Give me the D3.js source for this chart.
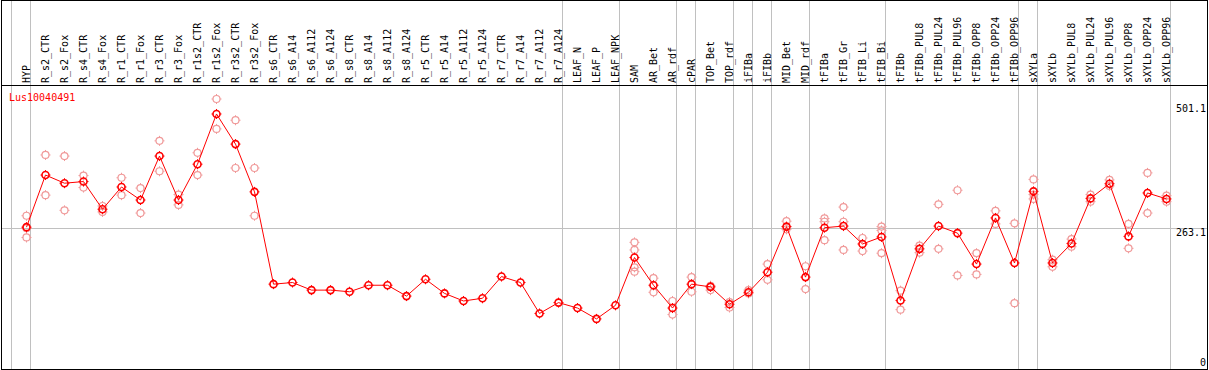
<!DOCTYPE html>
<html>
<head>
<meta charset="utf-8">
<script src="https://cdn.jsdelivr.net/npm/d3@7"></script>
<style>
  body { margin: 0; background: #fff; }
  svg { display: block; }
  text { font-family: "DejaVu Sans Mono", monospace; font-size: 10px; }
</style>
</head>
<body>
<svg id="chart"></svg>
<script>
const geneId = 'Lus10040491';

const categories = [
  'HYP', 'R_s2_CTR', 'R_s2_Fox', 'R_s4_CTR', 'R_s4_Fox', 'R_r1_CTR', 'R_r1_Fox',
  'R_r3_CTR', 'R_r3_Fox', 'R_r1s2_CTR', 'R_r1s2_Fox', 'R_r3s2_CTR', 'R_r3s2_Fox',
  'R_s6_CTR', 'R_s6_A14', 'R_s6_A112', 'R_s6_A124', 'R_s8_CTR', 'R_s8_A14',
  'R_s8_A112', 'R_s8_A124', 'R_r5_CTR', 'R_r5_A14', 'R_r5_A112', 'R_r5_A124',
  'R_r7_CTR', 'R_r7_A14', 'R_r7_A112', 'R_r7_A124', 'LEAF_N', 'LEAF_P', 'LEAF_NPK',
  'SAM', 'AR_Bet', 'AR_rdf', 'cPAR', 'TOP_Bet', 'TOP_rdf', 'iFIBa', 'iFIBb',
  'MID_Bet', 'MID_rdf', 'tFIBa', 'tFIB_Gr', 'tFIB_Li', 'tFIB_Bi', 'tFIBb',
  'tFIBb_PUL8', 'tFIBb_PUL24', 'tFIBb_PUL96', 'tFIBb_OPP8', 'tFIBb_OPP24', 'tFIBb_OPP96',
  'sXYLa', 'sXYLb', 'sXYLb_PUL8', 'sXYLb_PUL24', 'sXYLb_PUL96', 'sXYLb_OPP8',
  'sXYLb_OPP24', 'sXYLb_OPP96'
];

const meanValues = [
  265, 361, 346, 349, 298, 339, 315, 396, 315, 381, 473.5, 418, 330,
  160, 163, 149, 149, 146, 158, 158, 138, 169, 143, 129, 134, 174, 163, 106, 126,
  116, 96, 121, 209, 158, 116, 160, 155, 123, 145, 182, 266, 173,
  264, 267, 234, 247, 130, 225, 267, 254, 197, 282, 199,
  331, 199, 235, 318, 345, 248, 328, 317
];

const replicateValues = [
  [286, 263, 246], [398, 324], [396, 296], [360, 338], [304, 293], [356, 324],
  [337, 291], [424, 368], [325, 306], [402, 361], [501.1, 446], [462, 374], [374, 286],
  [], [], [], [], [], [], [], [], [], [], [], [], [], [], [], [], [], [], [],
  [237, 223, 191, 183], [171, 145], [129, 104], [173, 146], [157, 149], [127, 117],
  [149, 143], [197, 168], [276, 261], [193, 151], [281, 275, 241], [302, 275, 223],
  [245, 221], [266, 259, 217], [148, 113], [231, 218], [307, 225], [333, 176],
  [217, 178], [295, 271], [272, 125], [353, 325, 317], [205, 192], [243, 229],
  [325, 312], [352, 341], [271, 226], [365, 291], [323, 312]
];

// categories that close a group (gray separator on their right)
const groupEnds = ['HYP', 'R_r7_A124', 'LEAF_NPK', 'AR_rdf', 'cPAR', 'TOP_rdf',
  'iFIBa', 'iFIBb', 'MID_rdf', 'tFIB_Bi', 'tFIBb_OPP96', 'sXYLa', 'sXYLb_OPP96'];

const yTicks = [0, 263.1, 501.1];

function drawChart(container) {
  const width = 1209;
  const height = 370;
  const headerBottom = 85;
  const plotBottom = 369;

  const svg = d3.select(container)
      .attr('width', width)
      .attr('height', height);

  const x = d3.scaleBand()
      .domain(categories)
      .range([11, 1170]);
  const px = c => Math.round(x(c) + 15) + 0.5;

  const y = d3.scaleLinear()
      .domain([0, 501.1])
      .range([371, 99]);

  const data = categories.map((c, i) => ({
    name: c, mean: meanValues[i], reps: replicateValues[i]
  }));

  // gray separators
  const seps = [x(categories[0])].concat(groupEnds.map(c => x(c) + x.bandwidth()));
  svg.selectAll('.sep')
      .data(seps)
    .enter().append('line')
      .attr('class', 'sep')
      .attr('x1', d => Math.round(d) + 0.5)
      .attr('x2', d => Math.round(d) + 0.5)
      .attr('y1', 0)
      .attr('y2', plotBottom)
      .attr('stroke', '#c0c0c0');

  // horizontal gridline
  svg.append('line')
      .attr('x1', 1).attr('x2', 1207)
      .attr('y1', Math.round(y(263.1)) + 0.5)
      .attr('y2', Math.round(y(263.1)) + 0.5)
      .attr('stroke', '#c0c0c0');

  // frame and header separator
  svg.append('rect')
      .attr('x', 1.5).attr('y', 0.5)
      .attr('width', 1206).attr('height', plotBottom)
      .attr('fill', 'none')
      .attr('stroke', '#000');
  svg.append('line')
      .attr('x1', 1).attr('x2', 1208)
      .attr('y1', headerBottom + 0.5).attr('y2', headerBottom + 0.5)
      .attr('stroke', '#000');

  // header labels
  svg.selectAll('.cat')
      .data(categories)
    .enter().append('text')
      .attr('class', 'cat')
      .attr('transform', d => `translate(${px(d) + 3},83) rotate(-90)`)
      .attr('fill', '#000')
      .text(d => d);

  // right axis labels
  svg.selectAll('.ytick')
      .data(yTicks)
    .enter().append('text')
      .attr('class', 'ytick')
      .attr('x', 1206)
      .attr('y', d => Math.max(104, Math.min(358, y(d))))
      .attr('dy', '0.75em')
      .attr('text-anchor', 'end')
      .attr('fill', '#000')
      .text(d => d);

  svg.append('text')
      .attr('x', 9)
      .attr('y', 101)
      .attr('fill', '#ff0000')
      .text(geneId);

  function marker(g, color, sw) {
    const r = 3.5;
    g.append('circle')
        .attr('r', r)
        .attr('fill', 'none')
        .attr('stroke', color)
        .attr('stroke-width', sw);
    [[0, -1], [0, 1], [-1, 0], [1, 0]].forEach(([dx, dy]) => {
      g.append('line')
          .attr('x1', dx * r).attr('y1', dy * r)
          .attr('x2', dx * (r + 1.5)).attr('y2', dy * (r + 1.5))
          .attr('stroke', color)
          .attr('stroke-width', 1);
    });
  }

  // replicates
  const reps = data.flatMap(d => d.reps.map(v => ({ name: d.name, value: v })));
  svg.selectAll('.rep')
      .data(reps)
    .enter().append('g')
      .attr('class', 'rep')
      .attr('transform', d => `translate(${px(d.name)},${y(d.value)})`)
      .each(function() { marker(d3.select(this), '#f09a9a', 1.2); });

  // mean line
  const line = d3.line()
      .x(d => px(d.name))
      .y(d => y(d.mean));
  svg.append('path')
      .datum(data)
      .attr('d', line)
      .attr('fill', 'none')
      .attr('stroke', '#ff0000')
      .attr('stroke-width', 1);

  svg.selectAll('.mean')
      .data(data)
    .enter().append('g')
      .attr('class', 'mean')
      .attr('transform', d => `translate(${px(d.name)},${y(d.mean)})`)
      .each(function() { marker(d3.select(this), '#ff0000', 1.6); });
}

drawChart('#chart');
</script>
</body>
</html>
